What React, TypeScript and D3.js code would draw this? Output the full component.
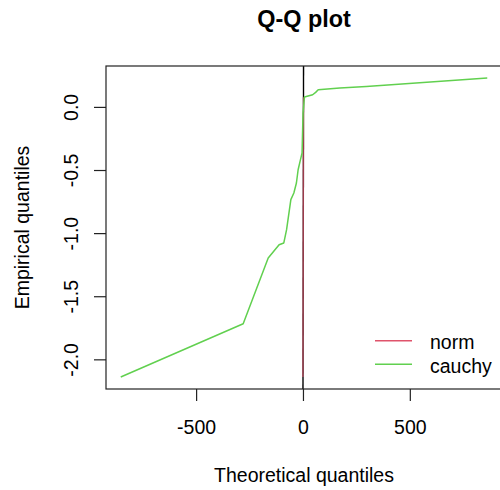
import React from 'react';
import * as d3 from 'd3';

const cauchyTheo = [-855, -282, -165, -114, -92, -79, -59, -45, -33, -25, -14, -6.5, -2, 4.7, 43, 57, 69, 170, 294, 860];
const cauchyEmp = [-2.136, -1.714, -1.193, -1.088, -1.074, -0.969, -0.731, -0.678, -0.599, -0.494, -0.414, -0.361, -0.044, 0.082, 0.1, 0.119, 0.14, 0.154, 0.166, 0.233];

// norm fit: theoretical quantiles are tiny on this scale
const normTheo = [-2.5, -1.2, 0, 0.6];
const normEmp = [-2.136, -1.2, -0.3, 0.08];

const xTicks = [-500, 0, 500];
const yTicks = [0, -0.5, -1, -1.5, -2];
const yTickLabels = ['0.0', '-0.5', '-1.0', '-1.5', '-2.0'];

const legendItems = [
  { name: 'norm', color: '#DF536B' },
  { name: 'cauchy', color: '#61D04F' },
];

const W = 500;
const H = 490;
const plot = { left: 106, top: 66, right: 502, bottom: 389 };

const App: React.FC = () => {
  const x = d3.scaleLinear().domain([-924, 929]).range([plot.left, plot.right]);
  const y = d3.scaleLinear().domain([-2.231, 0.328]).range([plot.bottom, plot.top]);

  const line = d3
    .line<[number, number]>()
    .x((d) => x(d[0]))
    .y((d) => y(d[1]));

  const cauchyPts = cauchyTheo.map((t, i) => [t, cauchyEmp[i]] as [number, number]);
  const normPts = normTheo.map((t, i) => [t, normEmp[i]] as [number, number]);
  const [y0, y1] = y.domain();
  const idLine: [number, number][] = [
    [y0, y0],
    [y1, y1],
  ];

  const font = 'Liberation Sans, Arial, Helvetica, sans-serif';

  return (
    <svg width={W} height={H} style={{ display: 'block', position: 'absolute', left: 0, top: 0 }} fontFamily={font}>
      <rect width={W} height={H} fill="white" />
      <defs>
        <clipPath id="plotClip">
          <rect x={plot.left} y={plot.top} width={plot.right - plot.left} height={plot.bottom - plot.top} />
        </clipPath>
      </defs>

      <text x={(plot.left + plot.right) / 2} y={27} textAnchor="middle" fontSize={23.4} fontWeight="bold" fill="#000">
        Q-Q plot
      </text>

      <g clipPath="url(#plotClip)">
        <path d={line(idLine) ?? ''} fill="none" stroke="#000" strokeWidth={1.4} />
        <path d={line(normPts) ?? ''} fill="none" stroke="#DF536B" strokeOpacity={0.7} strokeWidth={1.4} />
        <path d={line(cauchyPts) ?? ''} fill="none" stroke="#61D04F" strokeWidth={1.5} strokeLinejoin="round" />
      </g>

      <rect
        x={plot.left}
        y={plot.top}
        width={plot.right - plot.left}
        height={plot.bottom - plot.top}
        fill="none"
        stroke="#222"
        strokeWidth={1.2}
      />

      {xTicks.map((t) => (
        <g key={'x' + t}>
          <line x1={x(t)} x2={x(t)} y1={plot.bottom} y2={plot.bottom + 12} stroke="#222" strokeWidth={1.2} />
          <text x={x(t)} y={434} textAnchor="middle" fontSize={19.5} fill="#000">
            {t}
          </text>
        </g>
      ))}

      {yTicks.map((t, i) => (
        <g key={'y' + t}>
          <line x1={plot.left - 12} x2={plot.left} y1={y(t)} y2={y(t)} stroke="#222" strokeWidth={1.2} />
          <text transform={`translate(78,${y(t)}) rotate(-90)`} textAnchor="middle" fontSize={19.5} fill="#000">
            {yTickLabels[i]}
          </text>
        </g>
      ))}

      <text x={(plot.left + plot.right) / 2} y={482} textAnchor="middle" fontSize={19.5} fill="#000">
        Theoretical quantiles
      </text>
      <text
        transform={`translate(29,${(plot.top + plot.bottom) / 2}) rotate(-90)`}
        textAnchor="middle"
        fontSize={19.5}
        fill="#000"
      >
        Empirical quantiles
      </text>

      {legendItems.map((d, i) => (
        <g key={d.name} transform={`translate(0,${340.7 + i * 23.6})`}>
          <line x1={375} x2={412} y1={0} y2={0} stroke={d.color} strokeWidth={1.5} />
          <text x={430} y={8.6} fontSize={19.5} fill="#000">
            {d.name}
          </text>
        </g>
      ))}
    </svg>
  );
};

export default App;
